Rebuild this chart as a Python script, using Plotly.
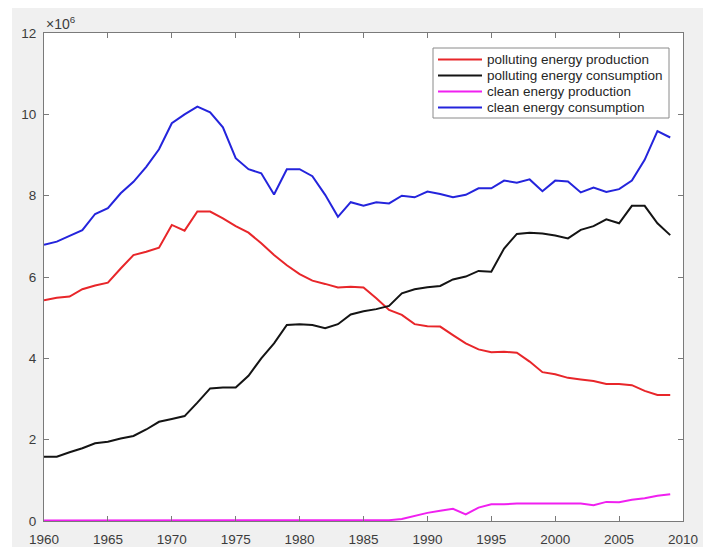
import plotly.graph_objects as go

years = list(range(1960, 2010))

polluting_production = [
    5.43, 5.49, 5.52, 5.70, 5.79, 5.86, 6.21, 6.54, 6.62, 6.72,
    7.28, 7.14, 7.61, 7.61, 7.44, 7.25, 7.09, 6.83, 6.54, 6.29,
    6.07, 5.91, 5.83, 5.74, 5.76, 5.74, 5.48, 5.19, 5.07, 4.84,
    4.79, 4.78, 4.57, 4.37, 4.22, 4.15, 4.16, 4.14, 3.92, 3.66,
    3.61, 3.52, 3.48, 3.44, 3.37, 3.37, 3.34, 3.20, 3.10, 3.10,
]
polluting_consumption = [
    1.58, 1.58, 1.69, 1.79, 1.91, 1.95, 2.03, 2.09, 2.25, 2.44,
    2.51, 2.58, 2.91, 3.26, 3.28, 3.28, 3.57, 4.00, 4.37, 4.82,
    4.84, 4.82, 4.74, 4.84, 5.08, 5.16, 5.21, 5.29, 5.60, 5.70,
    5.75, 5.78, 5.94, 6.01, 6.15, 6.13, 6.70, 7.06, 7.09, 7.07,
    7.02, 6.95, 7.16, 7.25, 7.42, 7.32, 7.75, 7.75, 7.32, 7.03,
]
clean_production = [
    0.01, 0.01, 0.01, 0.01, 0.01, 0.01, 0.01, 0.01, 0.01, 0.01,
    0.01, 0.01, 0.01, 0.01, 0.01, 0.01, 0.01, 0.01, 0.01, 0.01,
    0.01, 0.01, 0.01, 0.01, 0.01, 0.01, 0.01, 0.02, 0.05, 0.12,
    0.20, 0.25, 0.30, 0.16, 0.33, 0.41, 0.41, 0.43, 0.43, 0.42,
    0.42, 0.43, 0.43, 0.39, 0.47, 0.46, 0.52, 0.56, 0.62, 0.66,
]
clean_consumption = [
    6.79, 6.87, 7.01, 7.15, 7.55, 7.69, 8.06, 8.34, 8.71, 9.14,
    9.78, 10.00, 10.19, 10.05, 9.68, 8.92, 8.65, 8.55, 8.03, 8.65,
    8.65, 8.48, 8.02, 7.48, 7.84, 7.75, 7.84, 7.81, 8.00, 7.96,
    8.10, 8.04, 7.96, 8.02, 8.18, 8.18, 8.37, 8.32, 8.40, 8.11,
    8.37, 8.35, 8.08, 8.20, 8.09, 8.16, 8.37, 8.88, 9.59, 9.43,
]

scale = 1e6
series_names = [
    "polluting energy production",
    "polluting energy consumption",
    "clean energy production",
    "clean energy consumption",
]
series_values = [polluting_production, polluting_consumption, clean_production, clean_consumption]
series_colors = ["#e8262a", "#141414", "#f020f0", "#2424dc"]

x_ticks = [1960, 1965, 1970, 1975, 1980, 1985, 1990, 1995, 2000, 2005, 2010]
y_tick_values = [0, 2, 4, 6, 8, 10, 12]
y_tick_labels = ["0", "2", "4", "6", "8", "10", "12"]

fig = go.Figure()
for name, vals, col in zip(series_names, series_values, series_colors):
    fig.add_trace(go.Scatter(
        x=years, y=[v * scale for v in vals], mode="lines", name=name,
        line=dict(color=col, width=2), showlegend=False,
    ))

W, H = 703, 549
ml, mr, mt, mb = 44, 20, 33, 28
pw, ph = W - ml - mr, H - mt - mb

def px(xpix):
    return (xpix - ml) / pw

def py(ypix):
    return (H - mb - ypix) / ph

axis_color = "#7a7a7a"
font_family = "Liberation Sans, Arial, sans-serif"
tick_font = dict(family=font_family, size=13.5, color="#3c3c3c")

shapes = [
    dict(type="rect", xref="paper", yref="paper", x0=px(0), x1=px(W), y0=py(8), y1=py(0),
         fillcolor="white", line=dict(width=0), layer="below"),
    dict(type="rect", xref="paper", yref="paper", x0=px(0), x1=px(12), y0=py(H), y1=py(0),
         fillcolor="white", line=dict(width=0), layer="below"),
    dict(type="rect", xref="paper", yref="paper", x0=px(0), x1=px(W), y0=py(H), y1=py(547),
         fillcolor="white", line=dict(width=0), layer="below"),
]
annotations = [
    dict(text="×10<sup>6</sup>", xref="paper", yref="paper", x=px(44), y=py(34),
         xanchor="left", yanchor="bottom", showarrow=False,
         font=dict(family=font_family, size=14, color="#3c3c3c")),
]

# legend box (drawn as shapes + text so its compact row spacing matches)
leg_left, leg_right, leg_top, leg_bottom = 433, 669, 48, 118
shapes.append(dict(type="rect", xref="paper", yref="paper",
                   x0=px(leg_left), x1=px(leg_right), y0=py(leg_bottom), y1=py(leg_top),
                   fillcolor="white", line=dict(color="#8a8a8a", width=1), layer="above"))
row_y0, row_gap = 59.5, 16
for i, (name, col) in enumerate(zip(series_names, series_colors)):
    yy = row_y0 + i * row_gap
    shapes.append(dict(type="line", xref="paper", yref="paper",
                       x0=px(438), x1=px(482), y0=py(yy), y1=py(yy),
                       line=dict(color=col, width=2), layer="above"))
    annotations.append(dict(text=name, xref="paper", yref="paper", x=px(485), y=py(yy),
                            xanchor="left", yanchor="middle", showarrow=False,
                            font=dict(family=font_family, size=13.5, color="#262626")))

fig.update_layout(
    width=W, height=H,
    margin=dict(l=ml, r=mr, t=mt, b=mb, pad=0, autoexpand=False),
    paper_bgcolor="#f0f0f0",
    plot_bgcolor="white",
    showlegend=False,
    xaxis=dict(
        range=[1960, 2010], tickvals=x_ticks, ticks="inside", ticklen=5,
        tickcolor=axis_color, showline=True, linecolor=axis_color, linewidth=1,
        mirror="ticks", showgrid=False, zeroline=False, tickfont=tick_font,
        ticklabelstandoff=6, automargin=False,
    ),
    yaxis=dict(
        range=[0, 12 * scale], tickvals=[v * scale for v in y_tick_values],
        ticktext=y_tick_labels, ticks="inside", ticklen=5,
        tickcolor=axis_color, showline=True, linecolor=axis_color, linewidth=1,
        mirror="ticks", showgrid=False, zeroline=False, tickfont=tick_font,
        ticklabelstandoff=4, automargin=False,
    ),
    shapes=shapes,
    annotations=annotations,
)

fig.write_html("out.html")
